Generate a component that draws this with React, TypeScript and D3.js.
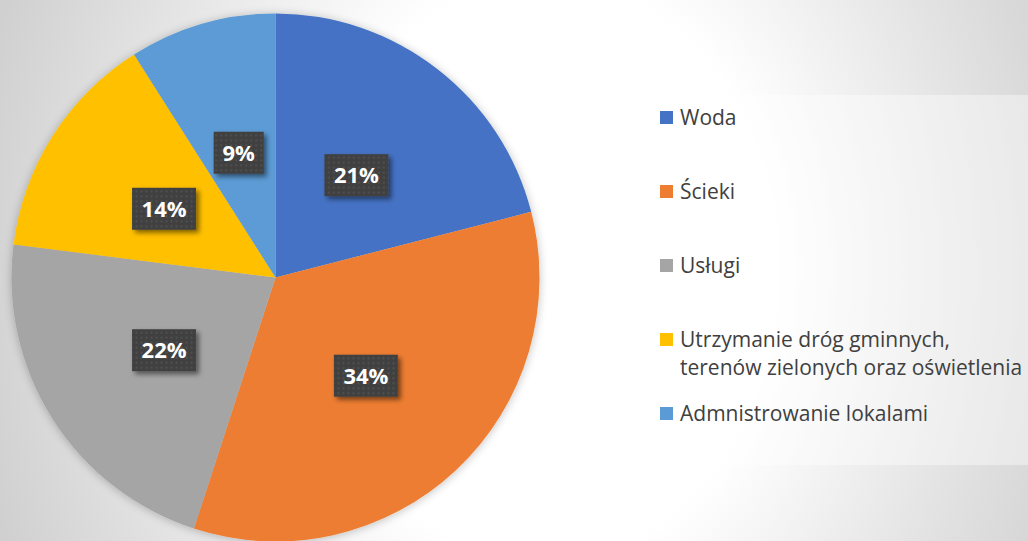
import React from "react";
import * as d3 from "d3";

const categories = [
  "Woda",
  "Ścieki",
  "Usługi",
  "Utrzymanie dróg gminnych, terenów zielonych oraz oświetlenia",
  "Admnistrowanie lokalami",
];
const legendLines = [
  ["Woda"],
  ["Ścieki"],
  ["Usługi"],
  ["Utrzymanie dróg gminnych,", "terenów zielonych oraz oświetlenia"],
  ["Admnistrowanie lokalami"],
];
const values = [21, 34, 22, 14, 9];
const colors = ["#4472C4", "#ED7D31", "#A5A5A5", "#FFC000", "#5B9BD5"];

const W = 1028;
const H = 541;
const cx = 275.5;
const cy = 277.5;
const R = 264;

export default function App() {
  const pie = d3.pie<number>().sort(null).value((d) => d);
  const arcs = pie(values);
  const arcGen = d3.arc<d3.PieArcDatum<number>>().innerRadius(0).outerRadius(R);
  const total = d3.sum(values);
  const fmt = (v: number) => `${Math.round((v / total) * 100)}%`;

  // legend rows: square top positions
  const legendTops = [111, 185, 259, 333, 407];

  return (
    <svg
      width={W}
      height={H}
      style={{ position: "absolute", left: 0, top: 0 }}
      fontFamily="'Open Sans', sans-serif"
    >
      <defs>
        <radialGradient
          id="bg"
          gradientUnits="userSpaceOnUse"
          cx={545}
          cy={270}
          r={580}
          gradientTransform="translate(545 270) scale(1 1.25) translate(-545 -270)"
        >
          <stop offset="0" stopColor="#ffffff" />
          <stop offset="0.4" stopColor="#ffffff" />
          <stop offset="0.72" stopColor="#e5e5e5" />
          <stop offset="1" stopColor="#d0d0d0" />
        </radialGradient>
        <pattern id="dots" width={5} height={5} patternUnits="userSpaceOnUse">
          <rect width={5} height={5} fill="#3f3f3f" />
          <rect x={1.5} y={1.5} width={2} height={2} fill="#535353" />
        </pattern>
        <filter id="pieShadow" x="-10%" y="-10%" width="120%" height="120%">
          <feGaussianBlur in="SourceAlpha" stdDeviation={5} />
          <feOffset dx={0} dy={1} result="b" />
          <feComponentTransfer>
            <feFuncA type="linear" slope={0.25} />
          </feComponentTransfer>
          <feMerge>
            <feMergeNode />
            <feMergeNode in="SourceGraphic" />
          </feMerge>
        </filter>
        <filter id="boxShadow" x="-30%" y="-30%" width="160%" height="160%">
          <feGaussianBlur in="SourceAlpha" stdDeviation={2.5} />
          <feOffset dx={3} dy={3} />
          <feComponentTransfer>
            <feFuncA type="linear" slope={0.5} />
          </feComponentTransfer>
          <feMerge>
            <feMergeNode />
            <feMergeNode in="SourceGraphic" />
          </feMerge>
        </filter>
      </defs>

      <rect width={W} height={H} fill="url(#bg)" />

      {/* legend panel */}
      <rect x={648} y={95} width={W - 648} height={370} fill="#ffffff" fillOpacity={0.4} />

      <g transform={`translate(${cx},${cy})`} filter="url(#pieShadow)">
        {arcs.map((a, i) => (
          <path key={categories[i]} d={arcGen(a) || ""} fill={colors[i]} />
        ))}
      </g>

      <g transform={`translate(${cx},${cy})`}>
        {arcs.map((a, i) => {
          const [x, y] = arcGen.centroid(a);
          const label = fmt(a.data);
          const w = label.length > 2 ? 64 : 50;
          const h = 42;
          return (
            <g key={`lbl-${i}`} transform={`translate(${x},${y + 2})`}>
              <rect
                x={-w / 2}
                y={-h / 2}
                width={w}
                height={h}
                fill="url(#dots)"
                filter="url(#boxShadow)"
              />
              <text
                textAnchor="middle"
                dy="0.36em"
                fill="#ffffff"
                fontWeight={700}
                fontSize={22}
              >
                {label}
              </text>
            </g>
          );
        })}
      </g>

      <g>
        {legendLines.map((lines, i) => (
          <g key={`leg-${i}`}>
            <rect x={660} y={legendTops[i]} width={13} height={13} fill={colors[i]} />
            {lines.map((ln, j) => (
              <text
                key={j}
                x={680}
                y={legendTops[i] + 14 + j * 28}
                fill="#404040"
                fontSize={21}
              >
                {ln}
              </text>
            ))}
          </g>
        ))}
      </g>
    </svg>
  );
}
